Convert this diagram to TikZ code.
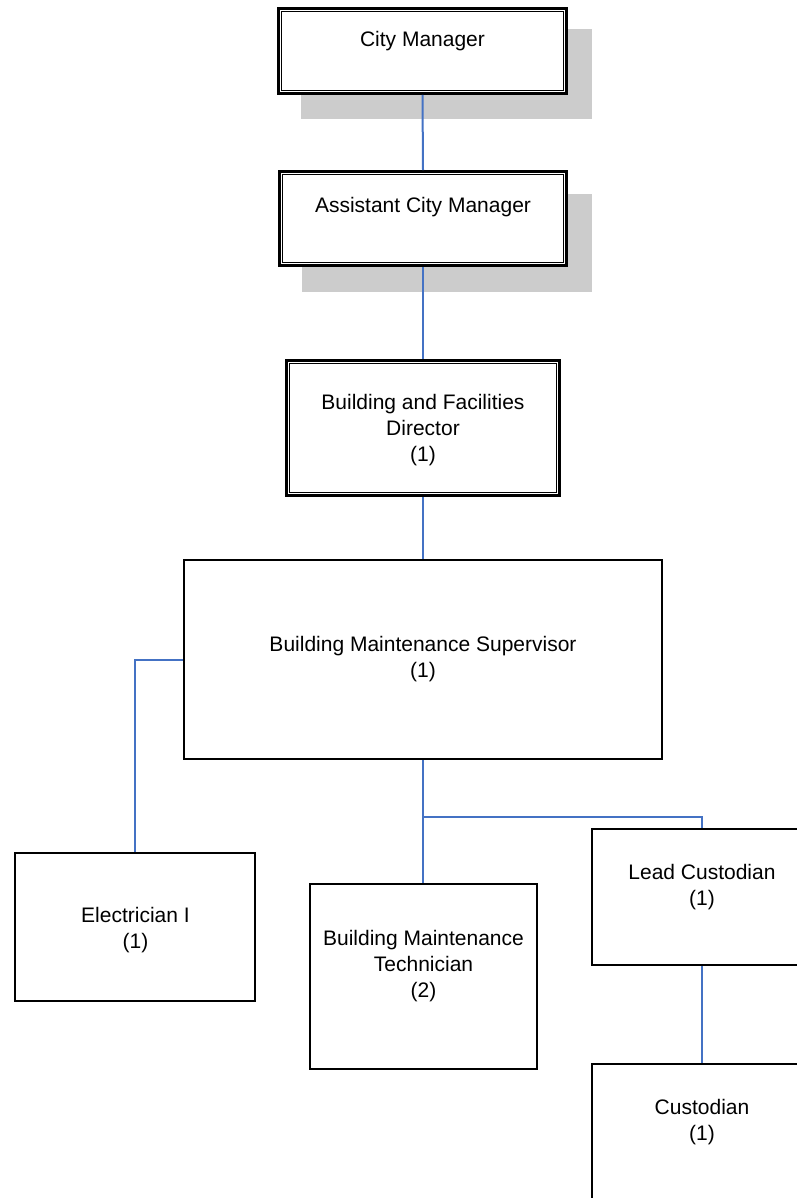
\documentclass[tikz,border=0pt]{standalone}
\usepackage{fontspec}
\setmainfont{Liberation Sans}
\usetikzlibrary{backgrounds}
\definecolor{linkblue}{HTML}{4472C4}
\definecolor{shadegray}{HTML}{CCCCCC}
\begin{document}
\begin{tikzpicture}[x=1bp,y=-1bp,
  box/.style={draw=black, line width=2bp, fill=white, rectangle, inner sep=0pt},
  dbox/.style={draw=black, line width=2.8bp, fill=white, rectangle, inner sep=0pt},
  innerrule/.style={draw=black, line width=1.4bp},
  caption/.style={font=\fontsize{21bp}{26bp}\selectfont, align=center, inner sep=0pt},
  link/.style={draw=linkblue, line width=2bp},
  dropshade/.style={fill=shadegray}]
\useasboundingbox (0,0) rectangle (797,1198);
\begin{scope}
\clip (0,0) rectangle (797,1198);

% executive boxes (double border)
\node[dbox, minimum width=288bp, minimum height=85bp] (cm) at (422.5,51) {};
\node[dbox, minimum width=287bp, minimum height=94bp] (acm) at (423,218.5) {};
\node[dbox, minimum width=273bp, minimum height=135bp] (dir) at (423,428) {};
\draw[innerrule] ([shift={(4.6,4.6)}]cm.north west) rectangle ([shift={(-4.6,-4.6)}]cm.south east);
\draw[innerrule] ([shift={(4.6,4.6)}]acm.north west) rectangle ([shift={(-4.6,-4.6)}]acm.south east);
\draw[innerrule] ([shift={(4.6,4.6)}]dir.north west) rectangle ([shift={(-4.6,-4.6)}]dir.south east);

% staff boxes
\node[box, minimum width=478bp, minimum height=199bp] (sup) at (423,659.5) {};
\node[box, minimum width=239bp, minimum height=148bp] (elec) at (135,927) {};
\node[box, minimum width=227bp, minimum height=185bp] (tech) at (423.5,976.5) {};
\node[box, minimum width=220bp, minimum height=136bp] (lead) at (702,897) {};
\node[box, minimum width=220bp, minimum height=185bp] (cust) at (702,1156) {};

% drop shadows behind the top two boxes
\begin{pgfonlayer}{background}
  \fill[dropshade] ([shift={(24,22)}]cm.north west) rectangle ([shift={(24,24)}]cm.south east);
  \fill[dropshade] ([shift={(24,24)}]acm.north west) rectangle ([shift={(24,25)}]acm.south east);
\end{pgfonlayer}

% titles
\node[caption] (cm-t) at (422.5,41.3) {\strut City Manager};
\node[caption] (acm-t) at (423,207.3) {\strut Assistant City Manager};
\node[caption] (dir-t) at (423,430.3) {\strut Building and Facilities\\\strut Director\\\strut (1)};
\node[caption] (sup-t) at (423,659.3) {\strut Building Maintenance Supervisor\\\strut (1)};
\node[caption] (elec-t) at (135.5,930.3) {\strut Electrician I\\\strut (1)};
\node[caption] (tech-t) at (423.5,966.3) {\strut Building Maintenance\\\strut Technician\\\strut (2)};
\node[caption] (lead-t) at (702,887.3) {\strut Lead Custodian\\\strut (1)};
\node[caption] (cust-t) at (702,1122.3) {\strut Custodian\\\strut (1)};

% reporting lines
\coordinate (split) at (423,817);
\draw[link] (cm.south) -- (acm.north);
\draw[link] (acm.south) -- (dir.north);
\draw[link] (dir.south) -- (sup.north);
\draw[link] (sup.west) -| (elec.north);
\draw[link] (sup.south) -- (sup.south |- tech.north);
\draw[link] (split) -| (lead.north);
\draw[link] (lead.south) -- (cust.north);
\end{scope}
\end{tikzpicture}
\end{document}
